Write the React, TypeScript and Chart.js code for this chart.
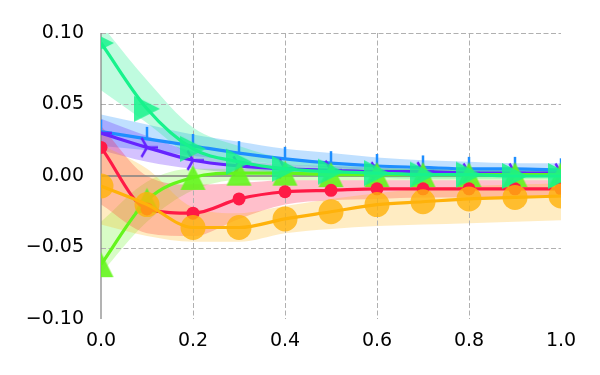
import React, { useEffect, useRef } from 'react';
import { Chart, registerables } from 'chart.js';

Chart.register(...registerables);

// ---- data ----
const xValues = [0, 0.1, 0.2, 0.3, 0.4, 0.5, 0.6, 0.7, 0.8, 0.9, 1.0];
const xTickValues = [0, 0.2, 0.4, 0.6, 0.8, 1.0];
const yTickValues = [-0.1, -0.05, 0, 0.05, 0.1];

const springMean = [0.093, 0.047, 0.019, 0.010, 0.005, 0.003, 0.002, 0.001, 0.001, 0.000, 0.000];
const springLow = [0.060, 0.037, 0.013, 0.006, 0.002, 0.000, -0.001, -0.002, -0.002, -0.002, -0.002];
const springHigh = [0.106, 0.067, 0.034, 0.021, 0.012, 0.008, 0.006, 0.005, 0.004, 0.004, 0.004];

const blueMean = [0.031, 0.026, 0.021, 0.016, 0.012, 0.009, 0.007, 0.006, 0.005, 0.005, 0.004];
const blueLow = [0.021, 0.018, 0.014, 0.011, 0.008, 0.006, 0.004, 0.003, 0.002, 0.002, 0.002];
const blueHigh = [0.043, 0.036, 0.029, 0.024, 0.019, 0.016, 0.013, 0.011, 0.010, 0.009, 0.009];

const purpleMean = [0.030, 0.020, 0.011, 0.007, 0.005, 0.004, 0.003, 0.003, 0.002, 0.002, 0.002];
const purpleLow = [0.018, 0.010, 0.005, 0.002, 0.001, 0.000, 0.000, 0.000, 0.000, 0.000, 0.000];
const purpleHigh = [0.040, 0.028, 0.017, 0.011, 0.008, 0.007, 0.006, 0.005, 0.005, 0.005, 0.005];

const redMean = [0.020, -0.023, -0.026, -0.016, -0.011, -0.010, -0.009, -0.009, -0.009, -0.009, -0.009];
const redLow = [-0.020, -0.040, -0.042, -0.030, -0.020, -0.017, -0.016, -0.015, -0.015, -0.015, -0.015];
const redHigh = [0.035, 0.000, -0.006, -0.005, -0.003, -0.003, -0.003, -0.003, -0.003, -0.003, -0.003];

const orangeMean = [-0.007, -0.020, -0.036, -0.036, -0.030, -0.025, -0.020, -0.018, -0.016, -0.015, -0.014];
const orangeLow = [-0.034, -0.042, -0.046, -0.046, -0.040, -0.037, -0.035, -0.034, -0.033, -0.032, -0.031];
const orangeHigh = [0.022, 0.005, -0.022, -0.026, -0.021, -0.016, -0.012, -0.009, -0.007, -0.006, -0.005];

const limeMean = [-0.062, -0.017, -0.001, 0.002, 0.002, 0.001, 0.001, 0.001, 0.001, 0.001, 0.001];
const limeLow = [-0.068, -0.032, -0.010, -0.003, -0.003, -0.003, -0.003, -0.003, -0.003, -0.003, -0.003];
const limeHigh = [-0.032, -0.004, 0.005, 0.005, 0.005, 0.005, 0.005, 0.005, 0.005, 0.005, 0.005];

// ---- colours ----
const SPRING = 'rgb(24,242,140)';
const BLUE = 'rgb(30,142,255)';
const PURPLE = 'rgb(102,36,255)';
const RED = 'rgb(255,26,70)';
const ORANGE = 'rgb(255,178,10)';
const LIME = 'rgb(100,245,28)';

const rgba = (c: string, a: number) => c.replace('rgb(', 'rgba(').replace(')', `,${a})`);

// ---- marker images ----
function mk(w: number, h: number, draw: (ctx: CanvasRenderingContext2D) => void) {
  const c = document.createElement('canvas');
  c.width = w;
  c.height = h;
  const ctx = c.getContext('2d')!;
  draw(ctx);
  return c;
}
function triRightMarker(size: number, fill: string) {
  return mk(size + 2, size + 2, (ctx) => {
    ctx.fillStyle = fill;
    ctx.beginPath();
    ctx.moveTo(1, 1);
    ctx.lineTo(size + 1, size / 2 + 1);
    ctx.lineTo(1, size + 1);
    ctx.closePath();
    ctx.fill();
  });
}
function triUpMarker(size: number, fill: string) {
  return mk(size + 2, size + 2, (ctx) => {
    ctx.fillStyle = fill;
    ctx.beginPath();
    ctx.moveTo(size / 2 + 1, 1);
    ctx.lineTo(size + 1, size + 1);
    ctx.lineTo(1, size + 1);
    ctx.closePath();
    ctx.fill();
  });
}
function tickUpMarker(len: number, width: number, color: string) {
  const w = 6;
  const h = 2 * len + 2;
  return mk(w, h, (ctx) => {
    ctx.strokeStyle = color;
    ctx.lineWidth = width;
    ctx.beginPath();
    ctx.moveTo(w / 2, h / 2);
    ctx.lineTo(w / 2, h / 2 - len);
    ctx.stroke();
  });
}
function tri4Marker(len: number, width: number, color: string) {
  const s = 2 * len + 4;
  const c = s / 2;
  return mk(s, s, (ctx) => {
    ctx.strokeStyle = color;
    ctx.lineWidth = width;
    ctx.beginPath();
    ctx.moveTo(c, c);
    ctx.lineTo(c + len, c);
    ctx.moveTo(c, c);
    ctx.lineTo(c - len * 0.5, c - len * 0.866);
    ctx.moveTo(c, c);
    ctx.lineTo(c - len * 0.5, c + len * 0.866);
    ctx.stroke();
  });
}

const pts = (ys: number[]) => xValues.map((x, i) => ({ x, y: ys[i] }));

const fmtMinus = (s: string) => s.replace('-', '\u2212');

export default function App() {
  const ref = useRef<HTMLCanvasElement>(null);

  useEffect(() => {
    if (!ref.current) return;

    const lineBase = {
      borderWidth: 3.2,
      cubicInterpolationMode: 'monotone' as const,
      fill: false,
      clip: 0,
    };

    const series = [
      { mean: springMean, color: SPRING, pointStyle: triRightMarker(26, rgba(SPRING, 0.85)), radius: 13 },
      { mean: orangeMean, color: ORANGE, pointStyle: 'circle', radius: 12.5, bg: rgba(ORANGE, 0.8) },
      { mean: redMean, color: RED, pointStyle: 'circle', radius: 6.5, bg: RED },
      { mean: limeMean, color: LIME, pointStyle: triUpMarker(25, rgba(LIME, 0.9)), radius: 12 },
      { mean: purpleMean, color: PURPLE, pointStyle: tri4Marker(11, 2.5, PURPLE), radius: 6 },
      { mean: blueMean, color: BLUE, pointStyle: tickUpMarker(12, 2.5, BLUE), radius: 6 },
    ];

    const datasets: any[] = series.map((s) => ({
      ...lineBase,
      data: pts(s.mean),
      borderColor: s.color,
      backgroundColor: s.bg || s.color,
      pointStyle: s.pointStyle,
      pointRadius: s.radius,
      pointBorderWidth: 0,
      pointBorderColor: 'rgba(0,0,0,0)',
      pointBackgroundColor: s.bg || s.color,
    }));

    const bands = [
      { low: springLow, high: springHigh, color: rgba(SPRING, 0.28) },
      { low: orangeLow, high: orangeHigh, color: rgba(ORANGE, 0.25) },
      { low: redLow, high: redHigh, color: rgba(RED, 0.28) },
      { low: limeLow, high: limeHigh, color: rgba(LIME, 0.25) },
      { low: purpleLow, high: purpleHigh, color: rgba(PURPLE, 0.28) },
      { low: blueLow, high: blueHigh, color: rgba(BLUE, 0.28) },
    ];
    bands.forEach((b) => {
      const lowIndex = datasets.length;
      datasets.push({
        data: pts(b.low),
        borderWidth: 0,
        pointRadius: 0,
        cubicInterpolationMode: 'monotone',
        fill: false,
        clip: 0,
        borderColor: 'rgba(0,0,0,0)',
      });
      datasets.push({
        data: pts(b.high),
        borderWidth: 0,
        pointRadius: 0,
        cubicInterpolationMode: 'monotone',
        fill: { target: lowIndex },
        backgroundColor: b.color,
        clip: 0,
        borderColor: 'rgba(0,0,0,0)',
      });
    });

    const gridPlugin = {
      id: 'mplGrid',
      beforeDatasetsDraw(chart: any) {
        const { ctx, chartArea } = chart;
        const xs = chart.scales.x;
        const ys = chart.scales.y;
        ctx.save();
        ctx.strokeStyle = '#b0b0b0';
        ctx.lineWidth = 1;
        ctx.setLineDash([5, 2.5]);
        xTickValues.forEach((v) => {
          if (v <= 0 || v >= 1) return;
          const px = Math.round(xs.getPixelForValue(v)) + 0.5;
          ctx.beginPath();
          ctx.moveTo(px, chartArea.top);
          ctx.lineTo(px, chartArea.bottom);
          ctx.stroke();
        });
        yTickValues.forEach((v) => {
          if (v <= -0.1 || Math.abs(v) < 1e-9) return;
          const py = Math.round(ys.getPixelForValue(v)) + 0.5;
          ctx.beginPath();
          ctx.moveTo(chartArea.left, py);
          ctx.lineTo(chartArea.right, py);
          ctx.stroke();
        });
        ctx.setLineDash([]);
        // zero line
        ctx.strokeStyle = '#808080';
        ctx.lineWidth = 1.5;
        const zy = ys.getPixelForValue(0);
        ctx.beginPath();
        ctx.moveTo(chartArea.left, zy);
        ctx.lineTo(chartArea.right, zy);
        ctx.stroke();
        // left axis line
        ctx.lineWidth = 1.2;
        const lx = xs.getPixelForValue(0);
        ctx.beginPath();
        ctx.moveTo(lx, chartArea.top);
        ctx.lineTo(lx, chartArea.bottom);
        ctx.stroke();
        ctx.restore();
      },
    };

    const chart = new Chart(ref.current, {
      type: 'line',
      data: { datasets },
      options: {
        animation: false,
        responsive: false,
        events: [],
        layout: { padding: { top: 33, right: 39, left: 0, bottom: 0 } },
        plugins: {
          legend: { display: false },
          tooltip: { enabled: false },
          filler: { drawTime: 'beforeDatasetsDraw', propagate: false },
        },
        scales: {
          x: {
            type: 'linear',
            min: 0,
            max: 1,
            grid: { display: false, drawTicks: false },
            border: { display: false },
            afterFit: (scale: any) => {
              scale.height = 56;
            },
            afterBuildTicks: (scale: any) => {
              scale.ticks = xTickValues.map((v) => ({ value: v }));
            },
            ticks: {
              color: '#000',
              padding: 11,
              maxRotation: 0,
              autoSkip: false,
              font: { family: 'DejaVu Sans', size: 19 },
              callback: (v: any) => fmtMinus(Number(v).toFixed(1)),
            },
          },
          y: {
            type: 'linear',
            min: -0.1,
            max: 0.1,
            grid: { display: false, drawTicks: false },
            border: { display: false },
            afterFit: (scale: any) => {
              scale.width = 101;
            },
            afterBuildTicks: (scale: any) => {
              scale.ticks = yTickValues.map((v) => ({ value: v }));
            },
            ticks: {
              color: '#000',
              padding: 17,
              autoSkip: false,
              font: { family: 'DejaVu Sans', size: 19 },
              callback: (v: any) => {
                const n = Number(v);
                if (Math.abs(n) < 1e-9) return '0.00';
                return fmtMinus(n.toFixed(2));
              },
            },
          },
        },
      } as any,
      plugins: [gridPlugin],
    });

    return () => chart.destroy();
  }, []);

  return (
    <div style={{ position: 'absolute', left: 0, top: 0, width: 600, height: 375, background: '#fff' }}>
      <canvas ref={ref} width={600} height={375} />
    </div>
  );
}
